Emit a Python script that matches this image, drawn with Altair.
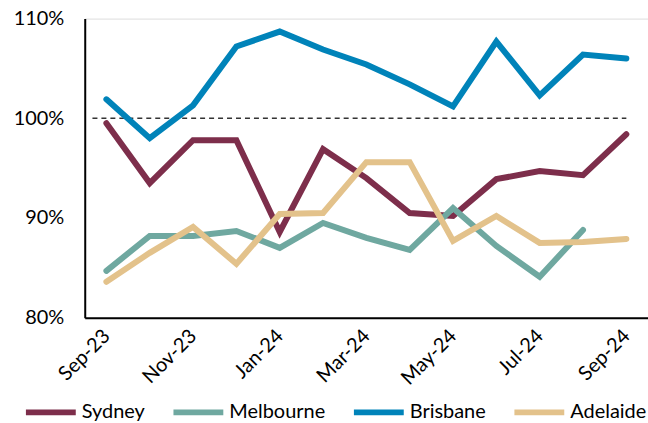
import altair as alt
import pandas as pd

months = ["Sep-23", "Oct-23", "Nov-23", "Dec-23", "Jan-24", "Feb-24", "Mar-24",
          "Apr-24", "May-24", "Jun-24", "Jul-24", "Aug-24", "Sep-24"]
label_months = ["Sep-23", "Nov-23", "Jan-24", "Mar-24", "May-24", "Jul-24", "Sep-24"]

sydney = [99.5, 93.5, 97.8, 97.8, 88.6, 96.9, 94.0, 90.5, 90.2, 93.9, 94.7, 94.3, 98.4]
melbourne = [84.7, 88.2, 88.2, 88.7, 87.0, 89.5, 88.0, 86.8, 91.0, 87.2, 84.1, 88.8, None]
brisbane = [101.9, 98.0, 101.3, 107.2, 108.7, 106.9, 105.4, 103.4, 101.2, 107.7, 102.3, 106.4, 106.0]
adelaide = [83.6, 86.5, 89.1, 85.4, 90.4, 90.5, 95.6, 95.6, 87.7, 90.2, 87.5, 87.6, 87.9]

cities = ["Sydney", "Melbourne", "Brisbane", "Adelaide"]
colors = ["#7D2E4B", "#6FA8A0", "#0083B9", "#E3C28B"]
series = {"Sydney": sydney, "Melbourne": melbourne, "Brisbane": brisbane, "Adelaide": adelaide}

rows = []
for c in cities:
    for i, (m, v) in enumerate(zip(months, series[c])):
        if v is not None:
            rows.append({"month": m, "idx": i, "city": c, "value": v})
df = pd.DataFrame(rows)

FONT = "Lato"

x_scale = alt.Scale(type="point", padding=0.5, domain=months)
x_axis = alt.Axis(values=label_months, title=None, labelAngle=315,
                  labelAlign="right", labelBaseline="middle",
                  labelPadding=15, ticks=False, labelFontSize=20,
                  domainColor="#000", domainWidth=2, labelColor="#000",
                  labelFont=FONT)

lines = alt.Chart(df).mark_line(strokeWidth=6, strokeCap="round", strokeJoin="miter").encode(
    x=alt.X("month:N", scale=x_scale, axis=x_axis),
    y=alt.Y("value:Q", scale=alt.Scale(domain=[80, 110], nice=False, zero=False),
            axis=alt.Axis(values=[80, 90, 100, 110], title=None, grid=False, ticks=False,
                          labelExpr="datum.value + '%'", labelFontSize=20,
                          labelPadding=21, domainColor="#000", domainWidth=2,
                          labelColor="#000", labelFont=FONT)),
    color=alt.Color("city:N", sort=cities,
                    scale=alt.Scale(domain=cities, range=colors),
                    legend=alt.Legend(title=None, orient="none", direction="horizontal",
                                      legendX=-62, legendY=367,
                                      symbolType="stroke", symbolSize=2500,
                                      symbolStrokeWidth=6, labelFontSize=20,
                                      labelOffset=3, columnPadding=16,
                                      labelFont=FONT, labelColor="#000")),
    order=alt.Order("idx:Q"),
)

ref_df = pd.DataFrame({"y": [100], "month": ["Sep-23"], "month_end": ["Sep-24"]})
rule = alt.Chart(ref_df).mark_rule(color="#333", strokeDash=[5, 4], strokeWidth=1.5,
                                   xOffset=-14).encode(
    x=alt.X("month:N", scale=x_scale, axis=x_axis),
    x2="month_end:N",
    y="y:Q",
)

chart = alt.layer(rule, lines).properties(
    width=565, height=300,
    autosize=alt.AutoSizeParams(type="none"),
    padding={"left": 85, "top": 18, "right": 0, "bottom": 105},
).configure_view(stroke=None).configure(font=FONT)

chart.save("out.html", embed_options={"renderer": "svg", "actions": False})
